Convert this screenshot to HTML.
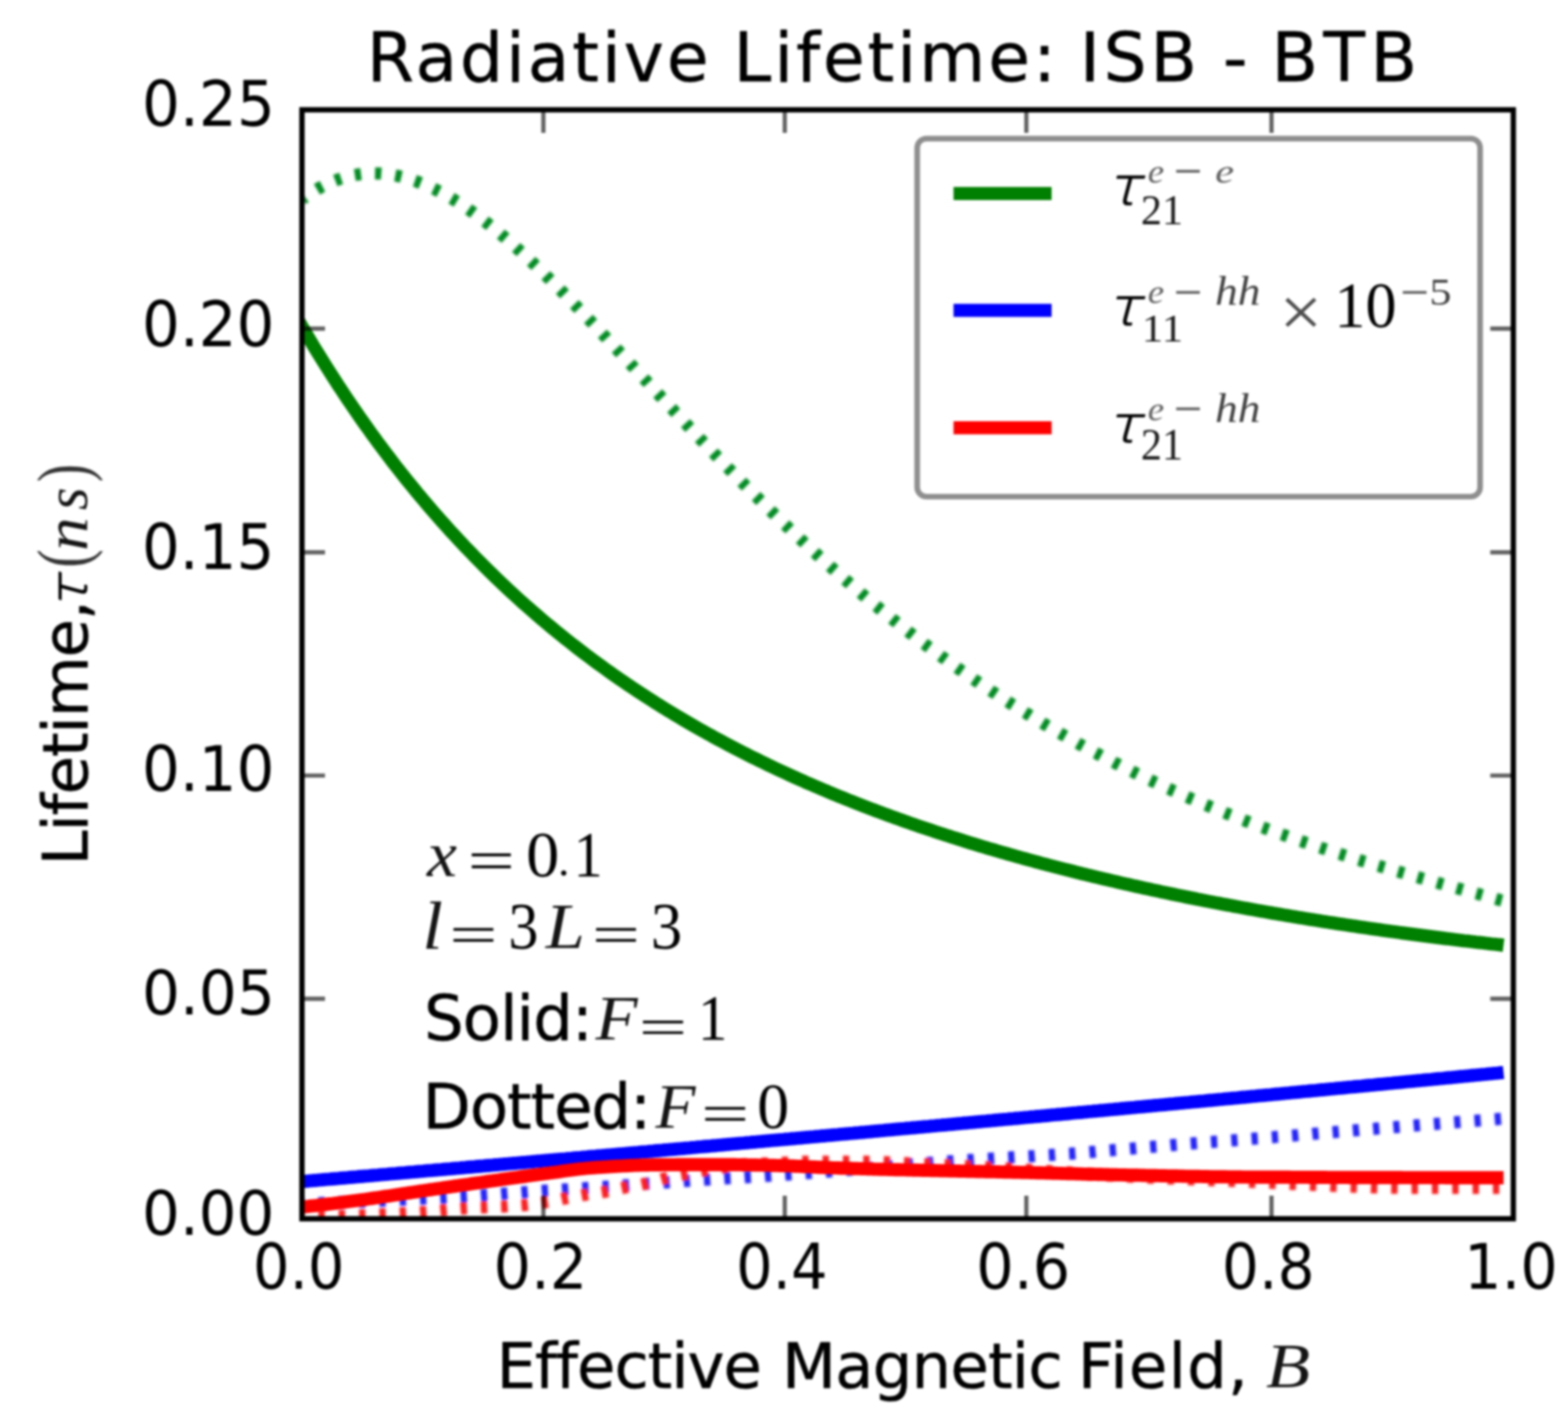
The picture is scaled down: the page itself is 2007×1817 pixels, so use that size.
<!DOCTYPE html>
<html lang="en"><head><meta charset="utf-8"><title>Radiative Lifetime: ISB - BTB</title>
<style>html,body{margin:0;padding:0;background:#fff;}body{width:2007px;height:1817px;overflow:hidden;}svg{display:block;filter:blur(1.4px);}text{white-space:pre;}</style></head>
<body><svg width="2007" height="1817" viewBox="0 0 2007 1817">
<rect x="-50" y="-50" width="2107" height="1917" fill="#fff"/>
<clipPath id="axclip"><rect x="386.5" y="140.5" width="1550.5" height="1419.0"/></clipPath>
<filter id="soft" x="-5%" y="-5%" width="110%" height="110%"><feGaussianBlur stdDeviation="1.3"/></filter>
<g clip-path="url(#axclip)" fill="none" stroke-linejoin="round">
<g filter="url(#soft)">
<path d="M387.0,254.8 L390.9,252.0 L394.7,249.3 L398.6,246.7 L402.4,244.3 L406.3,242.0 L410.1,239.8 L414.0,237.8 L417.8,235.9 L421.7,234.1 L425.5,232.4 L429.4,230.9 L433.2,229.5 L437.1,228.2 L440.9,227.0 L444.8,226.0 L448.7,225.0 L452.5,224.2 L456.4,223.6 L460.2,223.0 L464.1,222.5 L467.9,222.2 L471.8,221.9 L475.6,221.8 L479.5,221.8 L483.3,221.9 L487.2,222.1 L491.0,222.4 L494.9,222.8 L498.7,223.3 L502.6,223.9 L506.5,224.6 L510.3,225.4 L514.2,226.3 L518.0,227.3 L521.9,228.4 L525.7,229.6 L529.6,230.9 L533.4,232.2 L537.3,233.7 L541.1,235.2 L545.0,236.8 L548.8,238.5 L552.7,240.3 L556.5,242.1 L560.4,244.1 L564.3,246.1 L568.1,248.2 L572.0,250.3 L575.8,252.5 L579.7,254.8 L583.5,257.2 L587.4,259.6 L591.2,262.1 L595.1,264.7 L598.9,267.3 L602.8,270.0 L606.6,272.8 L610.5,275.6 L614.3,278.4 L618.2,281.3 L622.1,284.3 L625.9,287.3 L629.8,290.4 L633.6,293.5 L637.5,296.7 L641.3,299.9 L645.2,303.2 L649.0,306.5 L652.9,309.8 L656.7,313.2 L660.6,316.6 L664.4,320.1 L668.3,323.6 L672.2,327.2 L676.0,330.7 L679.9,334.4 L683.7,338.0 L687.6,341.7 L691.4,345.4 L695.3,349.1 L699.1,352.9 L703.0,356.7 L706.8,360.5 L710.7,364.3 L714.5,368.2 L718.4,372.1 L722.2,376.0 L726.1,380.0 L730.0,383.9 L733.8,387.9 L737.7,391.9 L741.5,395.9 L745.4,399.9 L749.2,403.9 L753.1,408.0 L756.9,412.0 L760.8,416.1 L764.6,420.2 L768.5,424.3 L772.3,428.4 L776.2,432.5 L780.0,436.7 L783.9,440.8 L787.8,444.9 L791.6,449.1 L795.5,453.2 L799.3,457.4 L803.2,461.5 L807.0,465.7 L810.9,469.9 L814.7,474.0 L818.6,478.2 L822.4,482.4 L826.3,486.5 L830.1,490.7 L834.0,494.9 L837.8,499.0 L841.7,503.2 L845.6,507.4 L849.4,511.5 L853.3,515.7 L857.1,519.8 L861.0,523.9 L864.8,528.1 L868.7,532.2 L872.5,536.3 L876.4,540.4 L880.2,544.5 L884.1,548.6 L887.9,552.7 L891.8,556.8 L895.6,560.9 L899.5,565.0 L903.4,569.0 L907.2,573.1 L911.1,577.1 L914.9,581.1 L918.8,585.1 L922.6,589.1 L926.5,593.1 L930.3,597.1 L934.2,601.1 L938.0,605.0 L941.9,608.9 L945.7,612.9 L949.6,616.8 L953.4,620.7 L957.3,624.6 L961.2,628.4 L965.0,632.3 L968.9,636.1 L972.7,640.0 L976.6,643.8 L980.4,647.6 L984.3,651.4 L988.1,655.1 L992.0,658.9 L995.8,662.6 L999.7,666.3 L1003.5,670.1 L1007.4,673.7 L1011.2,677.4 L1015.1,681.1 L1019.0,684.7 L1022.8,688.3 L1026.7,691.9 L1030.5,695.5 L1034.4,699.1 L1038.2,702.7 L1042.1,706.2 L1045.9,709.7 L1049.8,713.2 L1053.6,716.7 L1057.5,720.2 L1061.3,723.6 L1065.2,727.1 L1069.0,730.5 L1072.9,733.9 L1076.8,737.3 L1080.6,740.7 L1084.5,744.0 L1088.3,747.3 L1092.2,750.7 L1096.0,754.0 L1099.9,757.2 L1103.7,760.5 L1107.6,763.7 L1111.4,767.0 L1115.3,770.2 L1119.1,773.4 L1123.0,776.5 L1126.8,779.7 L1130.7,782.8 L1134.6,786.0 L1138.4,789.1 L1142.3,792.2 L1146.1,795.2 L1150.0,798.3 L1153.8,801.3 L1157.7,804.3 L1161.5,807.3 L1165.4,810.3 L1169.2,813.3 L1173.1,816.3 L1176.9,819.2 L1180.8,822.1 L1184.7,825.0 L1188.5,827.9 L1192.4,830.7 L1196.2,833.6 L1200.1,836.4 L1203.9,839.2 L1207.8,842.0 L1211.6,844.8 L1215.5,847.6 L1219.3,850.3 L1223.2,853.1 L1227.0,855.8 L1230.9,858.5 L1234.7,861.2 L1238.6,863.8 L1242.5,866.5 L1246.3,869.1 L1250.2,871.8 L1254.0,874.4 L1257.9,876.9 L1261.7,879.5 L1265.6,882.1 L1269.4,884.6 L1273.3,887.1 L1277.1,889.7 L1281.0,892.1 L1284.8,894.6 L1288.7,897.1 L1292.5,899.5 L1296.4,902.0 L1300.3,904.4 L1304.1,906.8 L1308.0,909.2 L1311.8,911.6 L1315.7,913.9 L1319.5,916.3 L1323.4,918.6 L1327.2,920.9 L1331.1,923.2 L1334.9,925.5 L1338.8,927.8 L1342.6,930.0 L1346.5,932.3 L1350.3,934.5 L1354.2,936.7 L1358.1,938.9 L1361.9,941.1 L1365.8,943.3 L1369.6,945.5 L1373.5,947.6 L1377.3,949.7 L1381.2,951.9 L1385.0,954.0 L1388.9,956.1 L1392.7,958.1 L1396.6,960.2 L1400.4,962.3 L1404.3,964.3 L1408.1,966.3 L1412.0,968.4 L1415.9,970.4 L1419.7,972.4 L1423.6,974.3 L1427.4,976.3 L1431.3,978.2 L1435.1,980.2 L1439.0,982.1 L1442.8,984.0 L1446.7,985.9 L1450.5,987.8 L1454.4,989.7 L1458.2,991.6 L1462.1,993.4 L1465.9,995.3 L1469.8,997.1 L1473.7,998.9 L1477.5,1000.7 L1481.4,1002.5 L1485.2,1004.3 L1489.1,1006.1 L1492.9,1007.9 L1496.8,1009.6 L1500.6,1011.4 L1504.5,1013.1 L1508.3,1014.8 L1512.2,1016.5 L1516.0,1018.2 L1519.9,1019.9 L1523.7,1021.6 L1527.6,1023.2 L1531.5,1024.9 L1535.3,1026.5 L1539.2,1028.2 L1543.0,1029.8 L1546.9,1031.4 L1550.7,1033.0 L1554.6,1034.6 L1558.4,1036.2 L1562.3,1037.8 L1566.1,1039.3 L1570.0,1040.9 L1573.8,1042.4 L1577.7,1043.9 L1581.5,1045.5 L1585.4,1047.0 L1589.3,1048.5 L1593.1,1050.0 L1597.0,1051.4 L1600.8,1052.9 L1604.7,1054.4 L1608.5,1055.8 L1612.4,1057.3 L1616.2,1058.7 L1620.1,1060.2 L1623.9,1061.6 L1627.8,1063.0 L1631.6,1064.4 L1635.5,1065.8 L1639.3,1067.2 L1643.2,1068.5 L1647.1,1069.9 L1650.9,1071.3 L1654.8,1072.6 L1658.6,1073.9 L1662.5,1075.3 L1666.3,1076.6 L1670.2,1077.9 L1674.0,1079.2 L1677.9,1080.5 L1681.7,1081.8 L1685.6,1083.1 L1689.4,1084.4 L1693.3,1085.7 L1697.2,1086.9 L1701.0,1088.2 L1704.9,1089.4 L1708.7,1090.7 L1712.6,1091.9 L1716.4,1093.1 L1720.3,1094.4 L1724.1,1095.6 L1728.0,1096.8 L1731.8,1098.0 L1735.7,1099.2 L1739.5,1100.4 L1743.4,1101.6 L1747.2,1102.7 L1751.1,1103.9 L1755.0,1105.1 L1758.8,1106.2 L1762.7,1107.4 L1766.5,1108.5 L1770.4,1109.7 L1774.2,1110.8 L1778.1,1111.9 L1781.9,1113.1 L1785.8,1114.2 L1789.6,1115.3 L1793.5,1116.4 L1797.3,1117.5 L1801.2,1118.7 L1805.0,1119.8 L1808.9,1120.9 L1812.8,1121.9 L1816.6,1123.0 L1820.5,1124.1 L1824.3,1125.2 L1828.2,1126.3 L1832.0,1127.4 L1835.9,1128.4 L1839.7,1129.5 L1843.6,1130.6 L1847.4,1131.7 L1851.3,1132.7 L1855.1,1133.8 L1859.0,1134.9 L1862.8,1135.9 L1866.7,1137.0 L1870.6,1138.0 L1874.4,1139.1 L1878.3,1140.2 L1882.1,1141.2 L1886.0,1142.3 L1889.8,1143.3 L1893.7,1144.4 L1897.5,1145.5 L1901.4,1146.5 L1905.2,1147.6 L1909.1,1148.7 L1912.9,1149.7 L1916.8,1150.8 L1920.6,1151.9 L1924.5,1152.9" stroke="#048c20" stroke-width="15.5" stroke-opacity="1" stroke-dasharray="8.0 18.03" stroke-dashoffset="3.5"/>
<path d="M387.0,1540.0 L390.9,1539.9 L394.7,1539.8 L398.6,1539.7 L402.4,1539.6 L406.3,1539.5 L410.1,1539.4 L414.0,1539.2 L417.8,1539.1 L421.7,1539.0 L425.5,1538.9 L429.4,1538.7 L433.2,1538.6 L437.1,1538.4 L440.9,1538.3 L444.8,1538.2 L448.7,1538.0 L452.5,1537.9 L456.4,1537.7 L460.2,1537.6 L464.1,1537.4 L467.9,1537.2 L471.8,1537.1 L475.6,1536.9 L479.5,1536.7 L483.3,1536.6 L487.2,1536.4 L491.0,1536.2 L494.9,1536.1 L498.7,1535.9 L502.6,1535.7 L506.5,1535.5 L510.3,1535.3 L514.2,1535.1 L518.0,1535.0 L521.9,1534.8 L525.7,1534.6 L529.6,1534.4 L533.4,1534.2 L537.3,1534.0 L541.1,1533.8 L545.0,1533.6 L548.8,1533.4 L552.7,1533.2 L556.5,1533.0 L560.4,1532.8 L564.3,1532.6 L568.1,1532.4 L572.0,1532.2 L575.8,1531.9 L579.7,1531.7 L583.5,1531.5 L587.4,1531.3 L591.2,1531.1 L595.1,1530.9 L598.9,1530.7 L602.8,1530.4 L606.6,1530.2 L610.5,1529.9 L614.3,1529.7 L618.2,1529.4 L622.1,1529.1 L625.9,1528.9 L629.8,1528.6 L633.6,1528.3 L637.5,1528.0 L641.3,1527.7 L645.2,1527.4 L649.0,1527.1 L652.9,1526.8 L656.7,1526.5 L660.6,1526.3 L664.4,1526.0 L668.3,1525.7 L672.2,1525.4 L676.0,1525.1 L679.9,1524.8 L683.7,1524.5 L687.6,1524.2 L691.4,1524.0 L695.3,1523.7 L699.1,1523.4 L703.0,1523.2 L706.8,1522.9 L710.7,1522.7 L714.5,1522.4 L718.4,1522.2 L722.2,1521.9 L726.1,1521.7 L730.0,1521.4 L733.8,1521.2 L737.7,1520.9 L741.5,1520.7 L745.4,1520.4 L749.2,1520.2 L753.1,1519.9 L756.9,1519.7 L760.8,1519.4 L764.6,1519.2 L768.5,1518.9 L772.3,1518.7 L776.2,1518.4 L780.0,1518.2 L783.9,1517.9 L787.8,1517.6 L791.6,1517.3 L795.5,1517.1 L799.3,1516.8 L803.2,1516.5 L807.0,1516.2 L810.9,1516.0 L814.7,1515.7 L818.6,1515.4 L822.4,1515.1 L826.3,1514.8 L830.1,1514.5 L834.0,1514.3 L837.8,1514.0 L841.7,1513.7 L845.6,1513.4 L849.4,1513.1 L853.3,1512.9 L857.1,1512.6 L861.0,1512.3 L864.8,1512.0 L868.7,1511.8 L872.5,1511.5 L876.4,1511.2 L880.2,1511.0 L884.1,1510.7 L887.9,1510.5 L891.8,1510.2 L895.6,1510.0 L899.5,1509.7 L903.4,1509.5 L907.2,1509.3 L911.1,1509.0 L914.9,1508.8 L918.8,1508.5 L922.6,1508.3 L926.5,1508.1 L930.3,1507.8 L934.2,1507.6 L938.0,1507.4 L941.9,1507.1 L945.7,1506.9 L949.6,1506.7 L953.4,1506.4 L957.3,1506.2 L961.2,1506.0 L965.0,1505.7 L968.9,1505.5 L972.7,1505.2 L976.6,1505.0 L980.4,1504.7 L984.3,1504.5 L988.1,1504.2 L992.0,1504.0 L995.8,1503.7 L999.7,1503.5 L1003.5,1503.2 L1007.4,1502.9 L1011.2,1502.7 L1015.1,1502.4 L1019.0,1502.1 L1022.8,1501.9 L1026.7,1501.6 L1030.5,1501.3 L1034.4,1501.0 L1038.2,1500.8 L1042.1,1500.5 L1045.9,1500.2 L1049.8,1499.9 L1053.6,1499.6 L1057.5,1499.3 L1061.3,1499.0 L1065.2,1498.6 L1069.0,1498.3 L1072.9,1498.0 L1076.8,1497.7 L1080.6,1497.4 L1084.5,1497.0 L1088.3,1496.7 L1092.2,1496.4 L1096.0,1496.0 L1099.9,1495.7 L1103.7,1495.4 L1107.6,1495.0 L1111.4,1494.7 L1115.3,1494.3 L1119.1,1494.0 L1123.0,1493.7 L1126.8,1493.3 L1130.7,1493.0 L1134.6,1492.6 L1138.4,1492.3 L1142.3,1492.0 L1146.1,1491.6 L1150.0,1491.3 L1153.8,1491.0 L1157.7,1490.6 L1161.5,1490.3 L1165.4,1490.0 L1169.2,1489.7 L1173.1,1489.3 L1176.9,1489.0 L1180.8,1488.7 L1184.7,1488.4 L1188.5,1488.1 L1192.4,1487.8 L1196.2,1487.5 L1200.1,1487.2 L1203.9,1486.9 L1207.8,1486.6 L1211.6,1486.3 L1215.5,1486.0 L1219.3,1485.8 L1223.2,1485.5 L1227.0,1485.2 L1230.9,1485.0 L1234.7,1484.7 L1238.6,1484.5 L1242.5,1484.2 L1246.3,1484.0 L1250.2,1483.7 L1254.0,1483.5 L1257.9,1483.3 L1261.7,1483.0 L1265.6,1482.8 L1269.4,1482.5 L1273.3,1482.3 L1277.1,1482.1 L1281.0,1481.8 L1284.8,1481.6 L1288.7,1481.3 L1292.5,1481.1 L1296.4,1480.8 L1300.3,1480.6 L1304.1,1480.4 L1308.0,1480.1 L1311.8,1479.9 L1315.7,1479.6 L1319.5,1479.4 L1323.4,1479.2 L1327.2,1478.9 L1331.1,1478.7 L1334.9,1478.5 L1338.8,1478.2 L1342.6,1478.0 L1346.5,1477.7 L1350.3,1477.5 L1354.2,1477.2 L1358.1,1477.0 L1361.9,1476.7 L1365.8,1476.4 L1369.6,1476.2 L1373.5,1475.9 L1377.3,1475.6 L1381.2,1475.3 L1385.0,1475.0 L1388.9,1474.7 L1392.7,1474.4 L1396.6,1474.1 L1400.4,1473.8 L1404.3,1473.4 L1408.1,1473.1 L1412.0,1472.8 L1415.9,1472.4 L1419.7,1472.1 L1423.6,1471.8 L1427.4,1471.4 L1431.3,1471.1 L1435.1,1470.8 L1439.0,1470.4 L1442.8,1470.1 L1446.7,1469.8 L1450.5,1469.5 L1454.4,1469.1 L1458.2,1468.8 L1462.1,1468.5 L1465.9,1468.2 L1469.8,1467.8 L1473.7,1467.5 L1477.5,1467.2 L1481.4,1466.9 L1485.2,1466.5 L1489.1,1466.2 L1492.9,1465.9 L1496.8,1465.6 L1500.6,1465.2 L1504.5,1464.9 L1508.3,1464.6 L1512.2,1464.3 L1516.0,1464.0 L1519.9,1463.7 L1523.7,1463.3 L1527.6,1463.0 L1531.5,1462.7 L1535.3,1462.4 L1539.2,1462.1 L1543.0,1461.8 L1546.9,1461.5 L1550.7,1461.2 L1554.6,1460.9 L1558.4,1460.7 L1562.3,1460.4 L1566.1,1460.1 L1570.0,1459.8 L1573.8,1459.5 L1577.7,1459.2 L1581.5,1458.9 L1585.4,1458.6 L1589.3,1458.3 L1593.1,1458.0 L1597.0,1457.7 L1600.8,1457.3 L1604.7,1457.0 L1608.5,1456.7 L1612.4,1456.4 L1616.2,1456.1 L1620.1,1455.8 L1623.9,1455.5 L1627.8,1455.2 L1631.6,1454.9 L1635.5,1454.5 L1639.3,1454.2 L1643.2,1453.9 L1647.1,1453.6 L1650.9,1453.3 L1654.8,1453.0 L1658.6,1452.7 L1662.5,1452.3 L1666.3,1452.0 L1670.2,1451.7 L1674.0,1451.4 L1677.9,1451.1 L1681.7,1450.7 L1685.6,1450.4 L1689.4,1450.1 L1693.3,1449.8 L1697.2,1449.5 L1701.0,1449.2 L1704.9,1448.8 L1708.7,1448.5 L1712.6,1448.2 L1716.4,1447.9 L1720.3,1447.6 L1724.1,1447.2 L1728.0,1446.9 L1731.8,1446.6 L1735.7,1446.3 L1739.5,1446.0 L1743.4,1445.6 L1747.2,1445.3 L1751.1,1445.0 L1755.0,1444.7 L1758.8,1444.4 L1762.7,1444.1 L1766.5,1443.8 L1770.4,1443.4 L1774.2,1443.1 L1778.1,1442.8 L1781.9,1442.5 L1785.8,1442.2 L1789.6,1441.9 L1793.5,1441.6 L1797.3,1441.3 L1801.2,1440.9 L1805.0,1440.6 L1808.9,1440.3 L1812.8,1440.0 L1816.6,1439.7 L1820.5,1439.4 L1824.3,1439.1 L1828.2,1438.8 L1832.0,1438.5 L1835.9,1438.2 L1839.7,1437.9 L1843.6,1437.6 L1847.4,1437.3 L1851.3,1437.0 L1855.1,1436.7 L1859.0,1436.4 L1862.8,1436.1 L1866.7,1435.8 L1870.6,1435.5 L1874.4,1435.2 L1878.3,1434.9 L1882.1,1434.6 L1886.0,1434.3 L1889.8,1434.0 L1893.7,1433.7 L1897.5,1433.4 L1901.4,1433.1 L1905.2,1432.8 L1909.1,1432.5 L1912.9,1432.2 L1916.8,1431.9 L1920.6,1431.6 L1924.5,1431.3" stroke="#2222ff" stroke-width="15.5" stroke-opacity="1" stroke-dasharray="8.0 18.03" stroke-dashoffset="5.5"/>
<path d="M387.0,1557.0 L390.9,1557.0 L394.7,1557.0 L398.6,1556.9 L402.4,1556.9 L406.3,1556.8 L410.1,1556.7 L414.0,1556.7 L417.8,1556.6 L421.7,1556.5 L425.5,1556.4 L429.4,1556.3 L433.2,1556.2 L437.1,1556.0 L440.9,1555.9 L444.8,1555.8 L448.7,1555.6 L452.5,1555.5 L456.4,1555.3 L460.2,1555.2 L464.1,1555.0 L467.9,1554.8 L471.8,1554.7 L475.6,1554.5 L479.5,1554.3 L483.3,1554.1 L487.2,1553.9 L491.0,1553.7 L494.9,1553.5 L498.7,1553.3 L502.6,1553.1 L506.5,1552.9 L510.3,1552.7 L514.2,1552.5 L518.0,1552.3 L521.9,1552.0 L525.7,1551.8 L529.6,1551.6 L533.4,1551.4 L537.3,1551.2 L541.1,1550.9 L545.0,1550.7 L548.8,1550.4 L552.7,1550.1 L556.5,1549.7 L560.4,1549.4 L564.3,1549.0 L568.1,1548.6 L572.0,1548.2 L575.8,1547.9 L579.7,1547.5 L583.5,1547.1 L587.4,1546.8 L591.2,1546.5 L595.1,1546.2 L598.9,1546.0 L602.8,1545.8 L606.6,1545.5 L610.5,1545.3 L614.3,1545.1 L618.2,1545.0 L622.1,1544.8 L625.9,1544.6 L629.8,1544.5 L633.6,1544.3 L637.5,1544.1 L641.3,1543.9 L645.2,1543.8 L649.0,1543.6 L652.9,1543.3 L656.7,1543.1 L660.6,1542.9 L664.4,1542.6 L668.3,1542.3 L672.2,1542.0 L676.0,1541.6 L679.9,1541.1 L683.7,1540.6 L687.6,1540.0 L691.4,1539.4 L695.3,1538.8 L699.1,1538.1 L703.0,1537.5 L706.8,1536.7 L710.7,1536.0 L714.5,1535.2 L718.4,1534.5 L722.2,1533.7 L726.1,1533.0 L730.0,1532.3 L733.8,1531.6 L737.7,1530.8 L741.5,1530.1 L745.4,1529.4 L749.2,1528.8 L753.1,1528.1 L756.9,1527.6 L760.8,1527.0 L764.6,1526.5 L768.5,1525.9 L772.3,1525.3 L776.2,1524.6 L780.0,1523.8 L783.9,1523.0 L787.8,1522.1 L791.6,1521.3 L795.5,1520.4 L799.3,1519.6 L803.2,1518.9 L807.0,1518.2 L810.9,1517.6 L814.7,1516.9 L818.6,1516.3 L822.4,1515.5 L826.3,1514.7 L830.1,1513.8 L834.0,1512.7 L837.8,1511.6 L841.7,1510.4 L845.6,1509.3 L849.4,1508.2 L853.3,1507.3 L857.1,1506.5 L861.0,1505.6 L864.8,1504.9 L868.7,1504.1 L872.5,1503.4 L876.4,1502.6 L880.2,1501.9 L884.1,1501.1 L887.9,1500.3 L891.8,1499.5 L895.6,1498.7 L899.5,1498.0 L903.4,1497.3 L907.2,1496.6 L911.1,1496.0 L914.9,1495.4 L918.8,1494.8 L922.6,1494.2 L926.5,1493.6 L930.3,1493.1 L934.2,1492.6 L938.0,1492.1 L941.9,1491.6 L945.7,1491.1 L949.6,1490.7 L953.4,1490.3 L957.3,1490.0 L961.2,1489.7 L965.0,1489.5 L968.9,1489.3 L972.7,1489.1 L976.6,1488.9 L980.4,1488.7 L984.3,1488.6 L988.1,1488.4 L992.0,1488.2 L995.8,1488.1 L999.7,1487.9 L1003.5,1487.7 L1007.4,1487.5 L1011.2,1487.3 L1015.1,1487.0 L1019.0,1486.8 L1022.8,1486.6 L1026.7,1486.5 L1030.5,1486.4 L1034.4,1486.4 L1038.2,1486.4 L1042.1,1486.4 L1045.9,1486.4 L1049.8,1486.4 L1053.6,1486.4 L1057.5,1486.4 L1061.3,1486.4 L1065.2,1486.4 L1069.0,1486.4 L1072.9,1486.5 L1076.8,1486.5 L1080.6,1486.5 L1084.5,1486.5 L1088.3,1486.5 L1092.2,1486.5 L1096.0,1486.5 L1099.9,1486.6 L1103.7,1486.6 L1107.6,1486.6 L1111.4,1486.6 L1115.3,1486.6 L1119.1,1486.7 L1123.0,1486.8 L1126.8,1486.9 L1130.7,1487.0 L1134.6,1487.2 L1138.4,1487.3 L1142.3,1487.5 L1146.1,1487.7 L1150.0,1487.9 L1153.8,1488.1 L1157.7,1488.3 L1161.5,1488.5 L1165.4,1488.7 L1169.2,1488.9 L1173.1,1489.1 L1176.9,1489.3 L1180.8,1489.5 L1184.7,1489.7 L1188.5,1489.9 L1192.4,1490.0 L1196.2,1490.2 L1200.1,1490.4 L1203.9,1490.6 L1207.8,1490.8 L1211.6,1491.0 L1215.5,1491.2 L1219.3,1491.4 L1223.2,1491.5 L1227.0,1491.7 L1230.9,1491.9 L1234.7,1492.1 L1238.6,1492.3 L1242.5,1492.5 L1246.3,1492.7 L1250.2,1492.9 L1254.0,1493.2 L1257.9,1493.4 L1261.7,1493.6 L1265.6,1493.8 L1269.4,1494.0 L1273.3,1494.2 L1277.1,1494.4 L1281.0,1494.6 L1284.8,1494.9 L1288.7,1495.1 L1292.5,1495.3 L1296.4,1495.5 L1300.3,1495.8 L1304.1,1496.0 L1308.0,1496.3 L1311.8,1496.5 L1315.7,1496.8 L1319.5,1497.0 L1323.4,1497.3 L1327.2,1497.5 L1331.1,1497.8 L1334.9,1498.1 L1338.8,1498.4 L1342.6,1498.6 L1346.5,1498.9 L1350.3,1499.2 L1354.2,1499.5 L1358.1,1499.7 L1361.9,1500.0 L1365.8,1500.3 L1369.6,1500.6 L1373.5,1500.9 L1377.3,1501.2 L1381.2,1501.4 L1385.0,1501.7 L1388.9,1502.0 L1392.7,1502.3 L1396.6,1502.5 L1400.4,1502.8 L1404.3,1503.1 L1408.1,1503.3 L1412.0,1503.6 L1415.9,1503.8 L1419.7,1504.1 L1423.6,1504.3 L1427.4,1504.6 L1431.3,1504.8 L1435.1,1505.0 L1439.0,1505.2 L1442.8,1505.4 L1446.7,1505.6 L1450.5,1505.8 L1454.4,1506.0 L1458.2,1506.2 L1462.1,1506.4 L1465.9,1506.6 L1469.8,1506.8 L1473.7,1507.0 L1477.5,1507.1 L1481.4,1507.3 L1485.2,1507.5 L1489.1,1507.6 L1492.9,1507.8 L1496.8,1508.0 L1500.6,1508.1 L1504.5,1508.3 L1508.3,1508.5 L1512.2,1508.6 L1516.0,1508.8 L1519.9,1508.9 L1523.7,1509.1 L1527.6,1509.2 L1531.5,1509.4 L1535.3,1509.5 L1539.2,1509.7 L1543.0,1509.9 L1546.9,1510.0 L1550.7,1510.2 L1554.6,1510.3 L1558.4,1510.5 L1562.3,1510.6 L1566.1,1510.8 L1570.0,1510.9 L1573.8,1511.1 L1577.7,1511.2 L1581.5,1511.4 L1585.4,1511.5 L1589.3,1511.7 L1593.1,1511.9 L1597.0,1512.1 L1600.8,1512.2 L1604.7,1512.4 L1608.5,1512.6 L1612.4,1512.8 L1616.2,1513.0 L1620.1,1513.1 L1623.9,1513.3 L1627.8,1513.5 L1631.6,1513.7 L1635.5,1513.9 L1639.3,1514.1 L1643.2,1514.3 L1647.1,1514.5 L1650.9,1514.7 L1654.8,1514.9 L1658.6,1515.1 L1662.5,1515.3 L1666.3,1515.5 L1670.2,1515.6 L1674.0,1515.8 L1677.9,1516.0 L1681.7,1516.2 L1685.6,1516.4 L1689.4,1516.6 L1693.3,1516.8 L1697.2,1516.9 L1701.0,1517.1 L1704.9,1517.3 L1708.7,1517.5 L1712.6,1517.6 L1716.4,1517.8 L1720.3,1517.9 L1724.1,1518.1 L1728.0,1518.3 L1731.8,1518.4 L1735.7,1518.5 L1739.5,1518.7 L1743.4,1518.8 L1747.2,1518.9 L1751.1,1519.0 L1755.0,1519.2 L1758.8,1519.3 L1762.7,1519.4 L1766.5,1519.5 L1770.4,1519.5 L1774.2,1519.6 L1778.1,1519.7 L1781.9,1519.8 L1785.8,1519.8 L1789.6,1519.9 L1793.5,1519.9 L1797.3,1520.0 L1801.2,1520.0 L1805.0,1520.0 L1808.9,1520.0 L1812.8,1520.0 L1816.6,1520.0 L1820.5,1520.0 L1824.3,1520.0 L1828.2,1520.0 L1832.0,1520.0 L1835.9,1520.0 L1839.7,1520.0 L1843.6,1520.0 L1847.4,1520.0 L1851.3,1520.0 L1855.1,1520.0 L1859.0,1520.0 L1862.8,1520.0 L1866.7,1520.0 L1870.6,1520.0 L1874.4,1520.0 L1878.3,1520.0 L1882.1,1520.0 L1886.0,1520.0 L1889.8,1520.0 L1893.7,1520.0 L1897.5,1520.0 L1901.4,1520.0 L1905.2,1520.0 L1909.1,1520.0 L1912.9,1520.0 L1916.8,1520.0 L1920.6,1520.0 L1924.5,1520.0" stroke="#ff1a1a" stroke-width="15.5" stroke-opacity="1" stroke-dasharray="8.0 18.03" stroke-dashoffset="5.35"/>
</g>
<path d="M379.0,404.8 L382.9,411.5 L386.7,418.1 L390.6,424.7 L394.5,431.3 L398.4,437.8 L402.2,444.2 L406.1,450.5 L410.0,456.8 L413.9,463.0 L417.7,469.2 L421.6,475.3 L425.5,481.4 L429.4,487.4 L433.2,493.3 L437.1,499.2 L441.0,505.1 L444.8,510.9 L448.7,516.6 L452.6,522.3 L456.5,527.9 L460.3,533.5 L464.2,539.0 L468.1,544.5 L472.0,549.9 L475.8,555.3 L479.7,560.6 L483.6,565.9 L487.5,571.1 L491.3,576.3 L495.2,581.4 L499.1,586.5 L502.9,591.6 L506.8,596.6 L510.7,601.5 L514.6,606.4 L518.4,611.3 L522.3,616.1 L526.2,620.9 L530.1,625.7 L533.9,630.4 L537.8,635.0 L541.7,639.6 L545.6,644.2 L549.4,648.7 L553.3,653.2 L557.2,657.7 L561.1,662.1 L564.9,666.5 L568.8,670.8 L572.7,675.1 L576.5,679.4 L580.4,683.6 L584.3,687.8 L588.2,692.0 L592.0,696.1 L595.9,700.2 L599.8,704.2 L603.7,708.2 L607.5,712.2 L611.4,716.2 L615.3,720.1 L619.2,724.0 L623.0,727.8 L626.9,731.6 L630.8,735.4 L634.6,739.2 L638.5,742.9 L642.4,746.6 L646.3,750.2 L650.1,753.9 L654.0,757.5 L657.9,761.0 L661.8,764.6 L665.6,768.1 L669.5,771.6 L673.4,775.0 L677.3,778.4 L681.1,781.8 L685.0,785.2 L688.9,788.5 L692.7,791.8 L696.6,795.1 L700.5,798.4 L704.4,801.6 L708.2,804.8 L712.1,808.0 L716.0,811.1 L719.9,814.3 L723.7,817.4 L727.6,820.4 L731.5,823.5 L735.4,826.5 L739.2,829.5 L743.1,832.5 L747.0,835.5 L750.8,838.4 L754.7,841.3 L758.6,844.2 L762.5,847.1 L766.3,849.9 L770.2,852.7 L774.1,855.5 L778.0,858.3 L781.8,861.0 L785.7,863.8 L789.6,866.5 L793.5,869.2 L797.3,871.8 L801.2,874.5 L805.1,877.1 L809.0,879.7 L812.8,882.3 L816.7,884.9 L820.6,887.4 L824.4,889.9 L828.3,892.4 L832.2,894.9 L836.1,897.4 L839.9,899.9 L843.8,902.3 L847.7,904.7 L851.6,907.1 L855.4,909.5 L859.3,911.8 L863.2,914.2 L867.1,916.5 L870.9,918.8 L874.8,921.1 L878.7,923.4 L882.5,925.6 L886.4,927.9 L890.3,930.1 L894.2,932.3 L898.0,934.5 L901.9,936.6 L905.8,938.8 L909.7,940.9 L913.5,943.1 L917.4,945.2 L921.3,947.3 L925.2,949.3 L929.0,951.4 L932.9,953.5 L936.8,955.5 L940.6,957.5 L944.5,959.5 L948.4,961.5 L952.3,963.5 L956.1,965.4 L960.0,967.4 L963.9,969.3 L967.8,971.2 L971.6,973.1 L975.5,975.0 L979.4,976.9 L983.3,978.8 L987.1,980.6 L991.0,982.5 L994.9,984.3 L998.7,986.1 L1002.6,987.9 L1006.5,989.7 L1010.4,991.5 L1014.2,993.2 L1018.1,995.0 L1022.0,996.7 L1025.9,998.4 L1029.7,1000.2 L1033.6,1001.9 L1037.5,1003.6 L1041.4,1005.2 L1045.2,1006.9 L1049.1,1008.6 L1053.0,1010.2 L1056.9,1011.8 L1060.7,1013.5 L1064.6,1015.1 L1068.5,1016.7 L1072.3,1018.3 L1076.2,1019.8 L1080.1,1021.4 L1084.0,1023.0 L1087.8,1024.5 L1091.7,1026.0 L1095.6,1027.6 L1099.5,1029.1 L1103.3,1030.6 L1107.2,1032.1 L1111.1,1033.6 L1115.0,1035.1 L1118.8,1036.5 L1122.7,1038.0 L1126.6,1039.4 L1130.4,1040.9 L1134.3,1042.3 L1138.2,1043.7 L1142.1,1045.1 L1145.9,1046.5 L1149.8,1047.9 L1153.7,1049.3 L1157.6,1050.7 L1161.4,1052.0 L1165.3,1053.4 L1169.2,1054.7 L1173.1,1056.1 L1176.9,1057.4 L1180.8,1058.7 L1184.7,1060.0 L1188.5,1061.3 L1192.4,1062.6 L1196.3,1063.9 L1200.2,1065.2 L1204.0,1066.5 L1207.9,1067.7 L1211.8,1069.0 L1215.7,1070.2 L1219.5,1071.5 L1223.4,1072.7 L1227.3,1073.9 L1231.2,1075.1 L1235.0,1076.4 L1238.9,1077.6 L1242.8,1078.8 L1246.6,1079.9 L1250.5,1081.1 L1254.4,1082.3 L1258.3,1083.5 L1262.1,1084.6 L1266.0,1085.8 L1269.9,1086.9 L1273.8,1088.0 L1277.6,1089.2 L1281.5,1090.3 L1285.4,1091.4 L1289.3,1092.5 L1293.1,1093.6 L1297.0,1094.7 L1300.9,1095.8 L1304.8,1096.9 L1308.6,1098.0 L1312.5,1099.0 L1316.4,1100.1 L1320.2,1101.1 L1324.1,1102.2 L1328.0,1103.2 L1331.9,1104.3 L1335.7,1105.3 L1339.6,1106.3 L1343.5,1107.4 L1347.4,1108.4 L1351.2,1109.4 L1355.1,1110.4 L1359.0,1111.4 L1362.9,1112.4 L1366.7,1113.3 L1370.6,1114.3 L1374.5,1115.3 L1378.3,1116.3 L1382.2,1117.2 L1386.1,1118.2 L1390.0,1119.1 L1393.8,1120.1 L1397.7,1121.0 L1401.6,1121.9 L1405.5,1122.9 L1409.3,1123.8 L1413.2,1124.7 L1417.1,1125.6 L1421.0,1126.5 L1424.8,1127.4 L1428.7,1128.3 L1432.6,1129.2 L1436.4,1130.1 L1440.3,1131.0 L1444.2,1131.8 L1448.1,1132.7 L1451.9,1133.6 L1455.8,1134.4 L1459.7,1135.3 L1463.6,1136.2 L1467.4,1137.0 L1471.3,1137.8 L1475.2,1138.7 L1479.1,1139.5 L1482.9,1140.3 L1486.8,1141.2 L1490.7,1142.0 L1494.5,1142.8 L1498.4,1143.6 L1502.3,1144.4 L1506.2,1145.2 L1510.0,1146.0 L1513.9,1146.8 L1517.8,1147.6 L1521.7,1148.4 L1525.5,1149.1 L1529.4,1149.9 L1533.3,1150.7 L1537.2,1151.4 L1541.0,1152.2 L1544.9,1153.0 L1548.8,1153.7 L1552.7,1154.5 L1556.5,1155.2 L1560.4,1155.9 L1564.3,1156.7 L1568.1,1157.4 L1572.0,1158.1 L1575.9,1158.8 L1579.8,1159.6 L1583.6,1160.3 L1587.5,1161.0 L1591.4,1161.7 L1595.3,1162.4 L1599.1,1163.1 L1603.0,1163.8 L1606.9,1164.5 L1610.8,1165.2 L1614.6,1165.9 L1618.5,1166.5 L1622.4,1167.2 L1626.2,1167.9 L1630.1,1168.6 L1634.0,1169.2 L1637.9,1169.9 L1641.7,1170.5 L1645.6,1171.2 L1649.5,1171.8 L1653.4,1172.5 L1657.2,1173.1 L1661.1,1173.8 L1665.0,1174.4 L1668.9,1175.0 L1672.7,1175.7 L1676.6,1176.3 L1680.5,1176.9 L1684.3,1177.5 L1688.2,1178.1 L1692.1,1178.8 L1696.0,1179.4 L1699.8,1180.0 L1703.7,1180.6 L1707.6,1181.2 L1711.5,1181.8 L1715.3,1182.3 L1719.2,1182.9 L1723.1,1183.5 L1727.0,1184.1 L1730.8,1184.7 L1734.7,1185.2 L1738.6,1185.8 L1742.4,1186.4 L1746.3,1186.9 L1750.2,1187.5 L1754.1,1188.1 L1757.9,1188.6 L1761.8,1189.2 L1765.7,1189.7 L1769.6,1190.3 L1773.4,1190.8 L1777.3,1191.3 L1781.2,1191.9 L1785.1,1192.4 L1788.9,1192.9 L1792.8,1193.5 L1796.7,1194.0 L1800.6,1194.5 L1804.4,1195.0 L1808.3,1195.5 L1812.2,1196.0 L1816.0,1196.5 L1819.9,1197.0 L1823.8,1197.5 L1827.7,1198.0 L1831.5,1198.5 L1835.4,1199.0 L1839.3,1199.5 L1843.2,1200.0 L1847.0,1200.5 L1850.9,1201.0 L1854.8,1201.4 L1858.7,1201.9 L1862.5,1202.4 L1866.4,1202.8 L1870.3,1203.3 L1874.1,1203.8 L1878.0,1204.2 L1881.9,1204.7 L1885.8,1205.1 L1889.6,1205.6 L1893.5,1206.0 L1897.4,1206.4 L1901.3,1206.9 L1905.1,1207.3 L1909.0,1207.8 L1912.9,1208.2 L1916.8,1208.6 L1920.6,1209.0 L1924.5,1209.5" stroke="#008000" stroke-width="16.9"/>
<path d="M379.0,1512.5 L382.9,1512.2 L386.7,1511.8 L390.6,1511.5 L394.5,1511.2 L398.4,1510.8 L402.2,1510.5 L406.1,1510.2 L410.0,1509.8 L413.9,1509.5 L417.7,1509.2 L421.6,1508.9 L425.5,1508.5 L429.4,1508.2 L433.2,1507.9 L437.1,1507.5 L441.0,1507.2 L444.8,1506.9 L448.7,1506.5 L452.6,1506.2 L456.5,1505.9 L460.3,1505.5 L464.2,1505.2 L468.1,1504.9 L472.0,1504.6 L475.8,1504.2 L479.7,1503.9 L483.6,1503.6 L487.5,1503.2 L491.3,1502.9 L495.2,1502.6 L499.1,1502.2 L502.9,1501.9 L506.8,1501.6 L510.7,1501.2 L514.6,1500.9 L518.4,1500.6 L522.3,1500.2 L526.2,1499.9 L530.1,1499.6 L533.9,1499.2 L537.8,1498.9 L541.7,1498.6 L545.6,1498.2 L549.4,1497.9 L553.3,1497.6 L557.2,1497.2 L561.1,1496.9 L564.9,1496.6 L568.8,1496.2 L572.7,1495.9 L576.5,1495.6 L580.4,1495.2 L584.3,1494.9 L588.2,1494.6 L592.0,1494.2 L595.9,1493.9 L599.8,1493.5 L603.7,1493.2 L607.5,1492.9 L611.4,1492.5 L615.3,1492.2 L619.2,1491.9 L623.0,1491.5 L626.9,1491.2 L630.8,1490.9 L634.6,1490.5 L638.5,1490.2 L642.4,1489.8 L646.3,1489.5 L650.1,1489.2 L654.0,1488.8 L657.9,1488.5 L661.8,1488.2 L665.6,1487.8 L669.5,1487.5 L673.4,1487.2 L677.3,1486.8 L681.1,1486.5 L685.0,1486.1 L688.9,1485.8 L692.7,1485.5 L696.6,1485.1 L700.5,1484.8 L704.4,1484.4 L708.2,1484.1 L712.1,1483.8 L716.0,1483.4 L719.9,1483.1 L723.7,1482.8 L727.6,1482.4 L731.5,1482.1 L735.4,1481.7 L739.2,1481.4 L743.1,1481.1 L747.0,1480.7 L750.8,1480.4 L754.7,1480.0 L758.6,1479.7 L762.5,1479.4 L766.3,1479.0 L770.2,1478.7 L774.1,1478.3 L778.0,1478.0 L781.8,1477.7 L785.7,1477.3 L789.6,1477.0 L793.5,1476.6 L797.3,1476.3 L801.2,1476.0 L805.1,1475.6 L809.0,1475.3 L812.8,1474.9 L816.7,1474.6 L820.6,1474.2 L824.4,1473.9 L828.3,1473.6 L832.2,1473.2 L836.1,1472.9 L839.9,1472.5 L843.8,1472.2 L847.7,1471.9 L851.6,1471.5 L855.4,1471.2 L859.3,1470.8 L863.2,1470.5 L867.1,1470.1 L870.9,1469.8 L874.8,1469.5 L878.7,1469.1 L882.5,1468.8 L886.4,1468.4 L890.3,1468.1 L894.2,1467.7 L898.0,1467.4 L901.9,1467.0 L905.8,1466.7 L909.7,1466.4 L913.5,1466.0 L917.4,1465.7 L921.3,1465.3 L925.2,1465.0 L929.0,1464.6 L932.9,1464.3 L936.8,1463.9 L940.6,1463.6 L944.5,1463.3 L948.4,1462.9 L952.3,1462.6 L956.1,1462.2 L960.0,1461.9 L963.9,1461.5 L967.8,1461.2 L971.6,1460.8 L975.5,1460.5 L979.4,1460.1 L983.3,1459.8 L987.1,1459.4 L991.0,1459.1 L994.9,1458.8 L998.7,1458.4 L1002.6,1458.1 L1006.5,1457.7 L1010.4,1457.4 L1014.2,1457.0 L1018.1,1456.7 L1022.0,1456.3 L1025.9,1456.0 L1029.7,1455.6 L1033.6,1455.3 L1037.5,1454.9 L1041.4,1454.6 L1045.2,1454.2 L1049.1,1453.9 L1053.0,1453.5 L1056.9,1453.2 L1060.7,1452.8 L1064.6,1452.5 L1068.5,1452.1 L1072.3,1451.8 L1076.2,1451.4 L1080.1,1451.1 L1084.0,1450.8 L1087.8,1450.4 L1091.7,1450.1 L1095.6,1449.7 L1099.5,1449.4 L1103.3,1449.0 L1107.2,1448.7 L1111.1,1448.3 L1115.0,1448.0 L1118.8,1447.6 L1122.7,1447.3 L1126.6,1446.9 L1130.4,1446.6 L1134.3,1446.2 L1138.2,1445.8 L1142.1,1445.5 L1145.9,1445.1 L1149.8,1444.8 L1153.7,1444.4 L1157.6,1444.1 L1161.4,1443.7 L1165.3,1443.4 L1169.2,1443.0 L1173.1,1442.7 L1176.9,1442.3 L1180.8,1442.0 L1184.7,1441.6 L1188.5,1441.3 L1192.4,1440.9 L1196.3,1440.6 L1200.2,1440.2 L1204.0,1439.9 L1207.9,1439.5 L1211.8,1439.2 L1215.7,1438.8 L1219.5,1438.5 L1223.4,1438.1 L1227.3,1437.7 L1231.2,1437.4 L1235.0,1437.0 L1238.9,1436.7 L1242.8,1436.3 L1246.6,1436.0 L1250.5,1435.6 L1254.4,1435.3 L1258.3,1434.9 L1262.1,1434.6 L1266.0,1434.2 L1269.9,1433.9 L1273.8,1433.5 L1277.6,1433.1 L1281.5,1432.8 L1285.4,1432.4 L1289.3,1432.1 L1293.1,1431.7 L1297.0,1431.4 L1300.9,1431.0 L1304.8,1430.7 L1308.6,1430.3 L1312.5,1429.9 L1316.4,1429.6 L1320.2,1429.2 L1324.1,1428.9 L1328.0,1428.5 L1331.9,1428.2 L1335.7,1427.8 L1339.6,1427.5 L1343.5,1427.1 L1347.4,1426.7 L1351.2,1426.4 L1355.1,1426.0 L1359.0,1425.7 L1362.9,1425.3 L1366.7,1425.0 L1370.6,1424.6 L1374.5,1424.2 L1378.3,1423.9 L1382.2,1423.5 L1386.1,1423.2 L1390.0,1422.8 L1393.8,1422.4 L1397.7,1422.1 L1401.6,1421.7 L1405.5,1421.4 L1409.3,1421.0 L1413.2,1420.7 L1417.1,1420.3 L1421.0,1419.9 L1424.8,1419.6 L1428.7,1419.2 L1432.6,1418.9 L1436.4,1418.5 L1440.3,1418.1 L1444.2,1417.8 L1448.1,1417.4 L1451.9,1417.1 L1455.8,1416.7 L1459.7,1416.3 L1463.6,1416.0 L1467.4,1415.6 L1471.3,1415.3 L1475.2,1414.9 L1479.1,1414.5 L1482.9,1414.2 L1486.8,1413.8 L1490.7,1413.5 L1494.5,1413.1 L1498.4,1412.7 L1502.3,1412.4 L1506.2,1412.0 L1510.0,1411.6 L1513.9,1411.3 L1517.8,1410.9 L1521.7,1410.6 L1525.5,1410.2 L1529.4,1409.8 L1533.3,1409.5 L1537.2,1409.1 L1541.0,1408.8 L1544.9,1408.4 L1548.8,1408.0 L1552.7,1407.7 L1556.5,1407.3 L1560.4,1406.9 L1564.3,1406.6 L1568.1,1406.2 L1572.0,1405.8 L1575.9,1405.5 L1579.8,1405.1 L1583.6,1404.8 L1587.5,1404.4 L1591.4,1404.0 L1595.3,1403.7 L1599.1,1403.3 L1603.0,1402.9 L1606.9,1402.6 L1610.8,1402.2 L1614.6,1401.8 L1618.5,1401.5 L1622.4,1401.1 L1626.2,1400.8 L1630.1,1400.4 L1634.0,1400.0 L1637.9,1399.7 L1641.7,1399.3 L1645.6,1398.9 L1649.5,1398.6 L1653.4,1398.2 L1657.2,1397.8 L1661.1,1397.5 L1665.0,1397.1 L1668.9,1396.7 L1672.7,1396.4 L1676.6,1396.0 L1680.5,1395.6 L1684.3,1395.3 L1688.2,1394.9 L1692.1,1394.5 L1696.0,1394.2 L1699.8,1393.8 L1703.7,1393.4 L1707.6,1393.1 L1711.5,1392.7 L1715.3,1392.3 L1719.2,1392.0 L1723.1,1391.6 L1727.0,1391.2 L1730.8,1390.9 L1734.7,1390.5 L1738.6,1390.1 L1742.4,1389.8 L1746.3,1389.4 L1750.2,1389.0 L1754.1,1388.6 L1757.9,1388.3 L1761.8,1387.9 L1765.7,1387.5 L1769.6,1387.2 L1773.4,1386.8 L1777.3,1386.4 L1781.2,1386.1 L1785.1,1385.7 L1788.9,1385.3 L1792.8,1385.0 L1796.7,1384.6 L1800.6,1384.2 L1804.4,1383.8 L1808.3,1383.5 L1812.2,1383.1 L1816.0,1382.7 L1819.9,1382.4 L1823.8,1382.0 L1827.7,1381.6 L1831.5,1381.3 L1835.4,1380.9 L1839.3,1380.5 L1843.2,1380.1 L1847.0,1379.8 L1850.9,1379.4 L1854.8,1379.0 L1858.7,1378.7 L1862.5,1378.3 L1866.4,1377.9 L1870.3,1377.5 L1874.1,1377.2 L1878.0,1376.8 L1881.9,1376.4 L1885.8,1376.0 L1889.6,1375.7 L1893.5,1375.3 L1897.4,1374.9 L1901.3,1374.6 L1905.1,1374.2 L1909.0,1373.8 L1912.9,1373.4 L1916.8,1373.1 L1920.6,1372.7 L1924.5,1372.3" stroke="#0000ff" stroke-width="16.9"/>
<path d="M379.0,1545.4 L382.9,1544.9 L386.7,1544.5 L390.6,1544.1 L394.5,1543.7 L398.4,1543.2 L402.2,1542.8 L406.1,1542.4 L410.0,1541.9 L413.9,1541.5 L417.7,1541.0 L421.6,1540.5 L425.5,1540.1 L429.4,1539.6 L433.2,1539.1 L437.1,1538.6 L441.0,1538.1 L444.8,1537.6 L448.7,1537.1 L452.6,1536.6 L456.5,1536.1 L460.3,1535.6 L464.2,1535.1 L468.1,1534.6 L472.0,1534.0 L475.8,1533.5 L479.7,1532.9 L483.6,1532.4 L487.5,1531.8 L491.3,1531.2 L495.2,1530.6 L499.1,1530.1 L502.9,1529.5 L506.8,1528.9 L510.7,1528.3 L514.6,1527.7 L518.4,1527.1 L522.3,1526.5 L526.2,1526.0 L530.1,1525.4 L533.9,1524.8 L537.8,1524.2 L541.7,1523.7 L545.6,1523.1 L549.4,1522.5 L553.3,1522.0 L557.2,1521.4 L561.1,1520.8 L564.9,1520.3 L568.8,1519.7 L572.7,1519.2 L576.5,1518.6 L580.4,1518.0 L584.3,1517.5 L588.2,1516.9 L592.0,1516.4 L595.9,1515.8 L599.8,1515.3 L603.7,1514.7 L607.5,1514.1 L611.4,1513.6 L615.3,1513.1 L619.2,1512.5 L623.0,1512.0 L626.9,1511.4 L630.8,1510.9 L634.6,1510.3 L638.5,1509.8 L642.4,1509.2 L646.3,1508.7 L650.1,1508.2 L654.0,1507.6 L657.9,1507.1 L661.8,1506.6 L665.6,1506.0 L669.5,1505.5 L673.4,1505.0 L677.3,1504.4 L681.1,1503.9 L685.0,1503.4 L688.9,1502.9 L692.7,1502.4 L696.6,1501.9 L700.5,1501.4 L704.4,1500.9 L708.2,1500.4 L712.1,1499.8 L716.0,1499.3 L719.9,1498.7 L723.7,1498.2 L727.6,1497.7 L731.5,1497.2 L735.4,1496.7 L739.2,1496.2 L743.1,1495.7 L747.0,1495.3 L750.8,1494.9 L754.7,1494.6 L758.6,1494.3 L762.5,1494.0 L766.3,1493.7 L770.2,1493.5 L774.1,1493.2 L778.0,1493.0 L781.8,1492.7 L785.7,1492.5 L789.6,1492.3 L793.5,1492.1 L797.3,1491.9 L801.2,1491.7 L805.1,1491.5 L809.0,1491.3 L812.8,1491.1 L816.7,1491.0 L820.6,1490.9 L824.4,1490.8 L828.3,1490.7 L832.2,1490.6 L836.1,1490.5 L839.9,1490.5 L843.8,1490.5 L847.7,1490.4 L851.6,1490.4 L855.4,1490.4 L859.3,1490.4 L863.2,1490.4 L867.1,1490.3 L870.9,1490.3 L874.8,1490.3 L878.7,1490.3 L882.5,1490.3 L886.4,1490.3 L890.3,1490.2 L894.2,1490.2 L898.0,1490.2 L901.9,1490.2 L905.8,1490.2 L909.7,1490.2 L913.5,1490.2 L917.4,1490.2 L921.3,1490.2 L925.2,1490.2 L929.0,1490.2 L932.9,1490.3 L936.8,1490.3 L940.6,1490.3 L944.5,1490.4 L948.4,1490.4 L952.3,1490.5 L956.1,1490.6 L960.0,1490.6 L963.9,1490.7 L967.8,1490.8 L971.6,1490.9 L975.5,1490.9 L979.4,1491.0 L983.3,1491.1 L987.1,1491.2 L991.0,1491.3 L994.9,1491.4 L998.7,1491.5 L1002.6,1491.6 L1006.5,1491.7 L1010.4,1491.9 L1014.2,1492.0 L1018.1,1492.2 L1022.0,1492.4 L1025.9,1492.5 L1029.7,1492.7 L1033.6,1492.9 L1037.5,1493.1 L1041.4,1493.3 L1045.2,1493.5 L1049.1,1493.7 L1053.0,1493.8 L1056.9,1494.0 L1060.7,1494.1 L1064.6,1494.3 L1068.5,1494.4 L1072.3,1494.5 L1076.2,1494.7 L1080.1,1494.8 L1084.0,1494.9 L1087.8,1495.0 L1091.7,1495.2 L1095.6,1495.3 L1099.5,1495.4 L1103.3,1495.5 L1107.2,1495.6 L1111.1,1495.7 L1115.0,1495.8 L1118.8,1496.0 L1122.7,1496.1 L1126.6,1496.2 L1130.4,1496.3 L1134.3,1496.4 L1138.2,1496.5 L1142.1,1496.6 L1145.9,1496.7 L1149.8,1496.8 L1153.7,1496.9 L1157.6,1496.9 L1161.4,1497.0 L1165.3,1497.1 L1169.2,1497.2 L1173.1,1497.3 L1176.9,1497.4 L1180.8,1497.5 L1184.7,1497.6 L1188.5,1497.6 L1192.4,1497.7 L1196.3,1497.8 L1200.2,1497.9 L1204.0,1498.0 L1207.9,1498.1 L1211.8,1498.1 L1215.7,1498.2 L1219.5,1498.3 L1223.4,1498.4 L1227.3,1498.5 L1231.2,1498.6 L1235.0,1498.6 L1238.9,1498.7 L1242.8,1498.8 L1246.6,1498.9 L1250.5,1499.0 L1254.4,1499.0 L1258.3,1499.1 L1262.1,1499.2 L1266.0,1499.3 L1269.9,1499.4 L1273.8,1499.4 L1277.6,1499.5 L1281.5,1499.6 L1285.4,1499.7 L1289.3,1499.8 L1293.1,1499.9 L1297.0,1500.0 L1300.9,1500.0 L1304.8,1500.1 L1308.6,1500.2 L1312.5,1500.3 L1316.4,1500.4 L1320.2,1500.5 L1324.1,1500.6 L1328.0,1500.7 L1331.9,1500.8 L1335.7,1500.9 L1339.6,1501.0 L1343.5,1501.1 L1347.4,1501.2 L1351.2,1501.3 L1355.1,1501.4 L1359.0,1501.5 L1362.9,1501.6 L1366.7,1501.7 L1370.6,1501.8 L1374.5,1501.9 L1378.3,1502.0 L1382.2,1502.1 L1386.1,1502.3 L1390.0,1502.4 L1393.8,1502.5 L1397.7,1502.5 L1401.6,1502.6 L1405.5,1502.7 L1409.3,1502.8 L1413.2,1502.9 L1417.1,1503.0 L1421.0,1503.1 L1424.8,1503.2 L1428.7,1503.3 L1432.6,1503.4 L1436.4,1503.4 L1440.3,1503.5 L1444.2,1503.6 L1448.1,1503.7 L1451.9,1503.8 L1455.8,1503.8 L1459.7,1503.9 L1463.6,1504.0 L1467.4,1504.1 L1471.3,1504.1 L1475.2,1504.2 L1479.1,1504.3 L1482.9,1504.4 L1486.8,1504.5 L1490.7,1504.5 L1494.5,1504.6 L1498.4,1504.7 L1502.3,1504.8 L1506.2,1504.8 L1510.0,1504.9 L1513.9,1505.0 L1517.8,1505.1 L1521.7,1505.1 L1525.5,1505.2 L1529.4,1505.3 L1533.3,1505.3 L1537.2,1505.4 L1541.0,1505.5 L1544.9,1505.5 L1548.8,1505.6 L1552.7,1505.6 L1556.5,1505.7 L1560.4,1505.7 L1564.3,1505.8 L1568.1,1505.8 L1572.0,1505.9 L1575.9,1505.9 L1579.8,1506.0 L1583.6,1506.0 L1587.5,1506.0 L1591.4,1506.1 L1595.3,1506.1 L1599.1,1506.1 L1603.0,1506.1 L1606.9,1506.1 L1610.8,1506.2 L1614.6,1506.2 L1618.5,1506.2 L1622.4,1506.2 L1626.2,1506.2 L1630.1,1506.3 L1634.0,1506.3 L1637.9,1506.3 L1641.7,1506.3 L1645.6,1506.3 L1649.5,1506.3 L1653.4,1506.4 L1657.2,1506.4 L1661.1,1506.4 L1665.0,1506.4 L1668.9,1506.4 L1672.7,1506.4 L1676.6,1506.5 L1680.5,1506.5 L1684.3,1506.5 L1688.2,1506.5 L1692.1,1506.5 L1696.0,1506.5 L1699.8,1506.6 L1703.7,1506.6 L1707.6,1506.6 L1711.5,1506.6 L1715.3,1506.6 L1719.2,1506.6 L1723.1,1506.6 L1727.0,1506.7 L1730.8,1506.7 L1734.7,1506.7 L1738.6,1506.7 L1742.4,1506.7 L1746.3,1506.7 L1750.2,1506.7 L1754.1,1506.7 L1757.9,1506.8 L1761.8,1506.8 L1765.7,1506.8 L1769.6,1506.8 L1773.4,1506.8 L1777.3,1506.8 L1781.2,1506.8 L1785.1,1506.8 L1788.9,1506.8 L1792.8,1506.8 L1796.7,1506.9 L1800.6,1506.9 L1804.4,1506.9 L1808.3,1506.9 L1812.2,1506.9 L1816.0,1506.9 L1819.9,1506.9 L1823.8,1506.9 L1827.7,1506.9 L1831.5,1506.9 L1835.4,1506.9 L1839.3,1506.9 L1843.2,1506.9 L1847.0,1506.9 L1850.9,1507.0 L1854.8,1507.0 L1858.7,1507.0 L1862.5,1507.0 L1866.4,1507.0 L1870.3,1507.0 L1874.1,1507.0 L1878.0,1507.0 L1881.9,1507.0 L1885.8,1507.0 L1889.6,1507.0 L1893.5,1507.0 L1897.4,1507.0 L1901.3,1507.0 L1905.1,1507.0 L1909.0,1507.0 L1912.9,1507.0 L1916.8,1507.0 L1920.6,1507.0 L1924.5,1507.0" stroke="#ff0000" stroke-width="16.9"/>
</g>
<rect x="386.5" y="140.5" width="1550.5" height="1419.0" fill="none" stroke="#000" stroke-width="6.8"/>
<path d="M695.5,1559.5v-29.5M695.5,140.5v29.5M1004.5,1559.5v-29.5M1004.5,140.5v29.5M1313.7,1559.5v-29.5M1313.7,140.5v29.5M1627.5,1559.5v-29.5M1627.5,140.5v29.5M386.5,420.5h29.5M1937.0,420.5h-29.5M386.5,706.8h29.5M1937.0,706.8h-29.5M386.5,992.4h29.5M1937.0,992.4h-29.5M386.5,1278.0h29.5M1937.0,1278.0h-29.5" stroke="#000" stroke-opacity="0.62" stroke-width="5.4" fill="none"/>
<text y="103.70" font-family='"DejaVu Sans","Liberation Sans",sans-serif' font-style="normal" font-size="87" fill="#000" stroke="#000" stroke-width="0.6" stroke-linejoin="round" xml:space="preserve"><tspan x="469.50" letter-spacing="3.701">Radiative</tspan> <tspan x="938.70" letter-spacing="3.776">Lifetime:</tspan> <tspan x="1382.20" letter-spacing="4.7">ISB</tspan> <tspan x="1565.50" letter-spacing="0.0">-</tspan> <tspan x="1627.50" letter-spacing="6.9">BTB</tspan></text>
<text transform="translate(181.63,160.90) scale(0.3824,0.3987)" font-family='"DejaVu Sans","Liberation Sans",sans-serif' font-style="normal" font-size="200" fill="#000" xml:space="preserve">0.25</text>
<text transform="translate(181.65,442.50) scale(0.3811,0.3993)" font-family='"DejaVu Sans","Liberation Sans",sans-serif' font-style="normal" font-size="200" fill="#000" xml:space="preserve">0.20</text>
<text transform="translate(181.65,727.50) scale(0.3805,0.3987)" font-family='"DejaVu Sans","Liberation Sans",sans-serif' font-style="normal" font-size="200" fill="#000" xml:space="preserve">0.15</text>
<text transform="translate(181.65,1012.41) scale(0.3811,0.3980)" font-family='"DejaVu Sans","Liberation Sans",sans-serif' font-style="normal" font-size="200" fill="#000" xml:space="preserve">0.10</text>
<text transform="translate(181.63,1298.12) scale(0.3824,0.3940)" font-family='"DejaVu Sans","Liberation Sans",sans-serif' font-style="normal" font-size="200" fill="#000" xml:space="preserve">0.05</text>
<text transform="translate(181.65,1579.61) scale(0.3811,0.3960)" font-family='"DejaVu Sans","Liberation Sans",sans-serif' font-style="normal" font-size="200" fill="#000" xml:space="preserve">0.00</text>
<text transform="translate(323.81,1649.10) scale(0.3685,0.3993)" font-family='"DejaVu Sans","Liberation Sans",sans-serif' font-style="normal" font-size="200" fill="#000" xml:space="preserve">0.0</text>
<text transform="translate(631.80,1649.10) scale(0.3768,0.3993)" font-family='"DejaVu Sans","Liberation Sans",sans-serif' font-style="normal" font-size="200" fill="#000" xml:space="preserve">0.2</text>
<text transform="translate(942.22,1649.10) scale(0.3680,0.3993)" font-family='"DejaVu Sans","Liberation Sans",sans-serif' font-style="normal" font-size="200" fill="#000" xml:space="preserve">0.4</text>
<text transform="translate(1249.58,1649.10) scale(0.3781,0.3993)" font-family='"DejaVu Sans","Liberation Sans",sans-serif' font-style="normal" font-size="200" fill="#000" xml:space="preserve">0.6</text>
<text transform="translate(1564.05,1649.10) scale(0.3729,0.3993)" font-family='"DejaVu Sans","Liberation Sans",sans-serif' font-style="normal" font-size="200" fill="#000" xml:space="preserve">0.8</text>
<text transform="translate(1874.11,1649.10) scale(0.3767,0.3993)" font-family='"DejaVu Sans","Liberation Sans",sans-serif' font-style="normal" font-size="200" fill="#000" xml:space="preserve">1.0</text>
<text y="1776.20" font-family='"DejaVu Sans","Liberation Sans",sans-serif' font-style="normal" font-size="80" fill="#000" stroke="#000" stroke-width="0.6" stroke-linejoin="round" xml:space="preserve"><tspan x="635.50" letter-spacing="-1.299">Effective</tspan> <tspan x="1001.10" letter-spacing="-1.028">Magnetic</tspan> <tspan x="1379.70" letter-spacing="1.48">Field,</tspan></text>
<text transform="translate(1620.48,1775.20) scale(0.4621,0.4000)" font-family='"Liberation Serif","DejaVu Serif",serif' font-style="italic" font-size="200" fill="#000" fill-opacity="0.92" xml:space="preserve">B</text>
<g transform="translate(113.4,1099.5) rotate(-90)">
<text x="-7.70" y="-1.80" font-family='"DejaVu Sans","Liberation Sans",sans-serif' font-style="normal" font-size="80" letter-spacing="-1.4" fill="#000" stroke="#000" stroke-width="0.6" stroke-linejoin="round" xml:space="preserve">Lifetime,</text>
<text transform="translate(319.30,-2.20) scale(0.3541,0.3229) skewX(-14)" font-family='"DejaVu Sans","Liberation Sans",sans-serif' font-style="normal" font-size="200" fill="#000" fill-opacity="1.0" stroke="#000" stroke-width="4.732" stroke-linejoin="round" font-weight="200" xml:space="preserve">τ</text>
<text transform="translate(373.36,-1.37) scale(0.3490,0.4611)" font-family='"Liberation Serif","DejaVu Serif",serif' font-style="normal" font-size="200" fill="#000" fill-opacity="0.8" xml:space="preserve">(</text>
<text transform="translate(394.71,-1.00) scale(0.4271,0.3957)" font-family='"Liberation Serif","DejaVu Serif",serif' font-style="italic" font-size="200" fill="#000" fill-opacity="0.92" xml:space="preserve">n</text>
<text transform="translate(446.78,-2.17) scale(0.3725,0.3833)" font-family='"Liberation Serif","DejaVu Serif",serif' font-style="italic" font-size="200" fill="#000" fill-opacity="0.92" xml:space="preserve">s</text>
<text transform="translate(482.73,-1.37) scale(0.3442,0.4611)" font-family='"Liberation Serif","DejaVu Serif",serif' font-style="normal" font-size="200" fill="#000" fill-opacity="0.8" xml:space="preserve">)</text>
</g>
<rect x="1174" y="177.3" width="720.5" height="458.2" rx="12" ry="12" fill="#fff" stroke="#8e8e8e" stroke-width="7.2"/>
<path d="M1220.5,247.6H1346" stroke="#008000" stroke-width="16.9" fill="none"/>
<path d="M1220.5,397.1H1346" stroke="#0000ff" stroke-width="16.9" fill="none"/>
<path d="M1220.5,547.4H1346" stroke="#ff0000" stroke-width="16.9" fill="none"/>
<text transform="translate(1416.51,262.40) scale(0.3592,0.3358) skewX(-14)" font-family='"DejaVu Sans","Liberation Sans",sans-serif' font-style="normal" font-size="200" fill="#000" fill-opacity="1.0" stroke="#000" stroke-width="4.607" stroke-linejoin="round" font-weight="200" xml:space="preserve">τ</text>
<text transform="translate(1460.17,287.30) scale(0.2704,0.2750)" font-family='"Liberation Serif","DejaVu Serif",serif' font-style="normal" font-size="200" fill="#000" fill-opacity="0.9" xml:space="preserve">21</text>
<text transform="translate(1468.97,234.26) scale(0.2385,0.2219)" font-family='"Liberation Serif","DejaVu Serif",serif' font-style="italic" font-size="200" fill="#000" fill-opacity="0.62" xml:space="preserve">e</text>
<text transform="translate(1502.14,243.36) scale(0.3258,0.3600)" font-family='"Liberation Serif","DejaVu Serif",serif' font-style="normal" font-size="200" fill="#000" fill-opacity="0.62" xml:space="preserve">−</text>
<text transform="translate(1555.35,234.26) scale(0.2756,0.2219)" font-family='"Liberation Serif","DejaVu Serif",serif' font-style="italic" font-size="200" fill="#000" fill-opacity="0.62" xml:space="preserve">e</text>
<text transform="translate(1416.51,416.00) scale(0.3592,0.3321) skewX(-14)" font-family='"DejaVu Sans","Liberation Sans",sans-serif' font-style="normal" font-size="200" fill="#000" fill-opacity="1.0" stroke="#000" stroke-width="4.633" stroke-linejoin="round" font-weight="200" xml:space="preserve">τ</text>
<text transform="translate(1461.56,436.80) scale(0.2747,0.2519)" font-family='"Liberation Serif","DejaVu Serif",serif' font-style="normal" font-size="200" fill="#000" fill-opacity="0.9" xml:space="preserve">11</text>
<text transform="translate(1468.97,388.36) scale(0.2385,0.2219)" font-family='"Liberation Serif","DejaVu Serif",serif' font-style="italic" font-size="200" fill="#000" fill-opacity="0.62" xml:space="preserve">e</text>
<text transform="translate(1502.14,397.56) scale(0.3258,0.3600)" font-family='"Liberation Serif","DejaVu Serif",serif' font-style="normal" font-size="200" fill="#000" fill-opacity="0.62" xml:space="preserve">−</text>
<text transform="translate(1555.17,389.66) scale(0.2903,0.2635)" font-family='"Liberation Serif","DejaVu Serif",serif' font-style="italic" font-size="200" fill="#000" fill-opacity="0.75" xml:space="preserve">hh</text>
<text transform="translate(1637.40,430.41) scale(0.4877,0.4543)" font-family='"Liberation Serif","DejaVu Serif",serif' font-style="normal" font-size="200" fill="#000" fill-opacity="0.7" xml:space="preserve">×</text>
<text transform="translate(1708.04,417.77) scale(0.3977,0.4170)" font-family='"Liberation Serif","DejaVu Serif",serif' font-style="normal" font-size="200" fill="#000" fill-opacity="1.0" xml:space="preserve">10</text>
<text transform="translate(1792.23,397.56) scale(0.3269,0.3600)" font-family='"Liberation Serif","DejaVu Serif",serif' font-style="normal" font-size="200" fill="#000" fill-opacity="0.62" xml:space="preserve">−</text>
<text transform="translate(1829.60,389.61) scale(0.2838,0.2474)" font-family='"Liberation Serif","DejaVu Serif",serif' font-style="normal" font-size="200" fill="#000" fill-opacity="0.75" xml:space="preserve">5</text>
<text transform="translate(1416.51,566.40) scale(0.3592,0.3229) skewX(-14)" font-family='"DejaVu Sans","Liberation Sans",sans-serif' font-style="normal" font-size="200" fill="#000" fill-opacity="1.0" stroke="#000" stroke-width="4.698" stroke-linejoin="round" font-weight="200" xml:space="preserve">τ</text>
<text transform="translate(1460.17,588.00) scale(0.2704,0.2803)" font-family='"Liberation Serif","DejaVu Serif",serif' font-style="normal" font-size="200" fill="#000" fill-opacity="0.9" xml:space="preserve">21</text>
<text transform="translate(1468.97,538.26) scale(0.2385,0.2219)" font-family='"Liberation Serif","DejaVu Serif",serif' font-style="italic" font-size="200" fill="#000" fill-opacity="0.62" xml:space="preserve">e</text>
<text transform="translate(1502.14,547.46) scale(0.3258,0.3600)" font-family='"Liberation Serif","DejaVu Serif",serif' font-style="normal" font-size="200" fill="#000" fill-opacity="0.62" xml:space="preserve">−</text>
<text transform="translate(1555.17,540.27) scale(0.2903,0.2686)" font-family='"Liberation Serif","DejaVu Serif",serif' font-style="italic" font-size="200" fill="#000" fill-opacity="0.75" xml:space="preserve">hh</text>
<text transform="translate(546.47,1120.80) scale(0.4326,0.4165)" font-family='"Liberation Serif","DejaVu Serif",serif' font-style="italic" font-size="200" fill="#000" fill-opacity="0.92" xml:space="preserve">x</text>
<text transform="translate(598.62,1127.44) scale(0.5376,0.3840)" font-family='"Liberation Serif","DejaVu Serif",serif' font-style="normal" font-size="200" fill="#000" fill-opacity="1.0" xml:space="preserve">=</text>
<text transform="translate(673.41,1120.68) scale(0.4238,0.4111)" font-family='"Liberation Serif","DejaVu Serif",serif' font-style="normal" font-size="200" fill="#000" fill-opacity="1.0" xml:space="preserve">0</text>
<text transform="translate(714.21,1120.15) scale(0.2917,0.2826)" font-family='"Liberation Serif","DejaVu Serif",serif' font-style="normal" font-size="200" fill="#000" fill-opacity="1.0" xml:space="preserve">.</text>
<text transform="translate(734.31,1120.80) scale(0.3714,0.4145)" font-family='"Liberation Serif","DejaVu Serif",serif' font-style="normal" font-size="200" fill="#000" fill-opacity="1.0" xml:space="preserve">1</text>
<text transform="translate(540.38,1214.00) scale(0.4750,0.4348)" font-family='"Liberation Serif","DejaVu Serif",serif' font-style="italic" font-size="200" fill="#000" fill-opacity="0.92" xml:space="preserve">l</text>
<text transform="translate(575.02,1220.49) scale(0.5484,0.3460)" font-family='"Liberation Serif","DejaVu Serif",serif' font-style="normal" font-size="200" fill="#000" fill-opacity="1.0" xml:space="preserve">=</text>
<text transform="translate(650.66,1214.15) scale(0.3841,0.4254)" font-family='"Liberation Serif","DejaVu Serif",serif' font-style="normal" font-size="200" fill="#000" fill-opacity="1.0" xml:space="preserve">3</text>
<text transform="translate(698.60,1213.40) scale(0.4500,0.4108)" font-family='"Liberation Serif","DejaVu Serif",serif' font-style="italic" font-size="200" fill="#000" fill-opacity="0.92" xml:space="preserve">L</text>
<text transform="translate(757.52,1220.49) scale(0.5484,0.3460)" font-family='"Liberation Serif","DejaVu Serif",serif' font-style="normal" font-size="200" fill="#000" fill-opacity="1.0" xml:space="preserve">=</text>
<text transform="translate(832.98,1214.15) scale(0.4024,0.4254)" font-family='"Liberation Serif","DejaVu Serif",serif' font-style="normal" font-size="200" fill="#000" fill-opacity="1.0" xml:space="preserve">3</text>
<text x="542.70" y="1330.70" font-family='"DejaVu Sans","Liberation Sans",sans-serif' font-style="normal" font-size="80" letter-spacing="-1.12" fill="#000" stroke="#000" stroke-width="0.6" stroke-linejoin="round" xml:space="preserve">Solid:</text>
<text transform="translate(762.34,1330.10) scale(0.4408,0.4031)" font-family='"Liberation Serif","DejaVu Serif",serif' font-style="italic" font-size="200" fill="#000" fill-opacity="0.92" xml:space="preserve">F</text>
<text transform="translate(817.48,1336.52) scale(0.5516,0.3420)" font-family='"Liberation Serif","DejaVu Serif",serif' font-style="normal" font-size="200" fill="#000" fill-opacity="1.0" xml:space="preserve">=</text>
<text transform="translate(893.19,1330.00) scale(0.3786,0.4122)" font-family='"Liberation Serif","DejaVu Serif",serif' font-style="normal" font-size="200" fill="#000" fill-opacity="1.0" xml:space="preserve">1</text>
<text x="541.10" y="1443.70" font-family='"DejaVu Sans","Liberation Sans",sans-serif' font-style="normal" font-size="80" letter-spacing="-1.3" fill="#000" stroke="#000" stroke-width="0.6" stroke-linejoin="round" xml:space="preserve">Dotted:</text>
<text transform="translate(839.02,1443.11) scale(0.4192,0.4054)" font-family='"Liberation Serif","DejaVu Serif",serif' font-style="italic" font-size="200" fill="#000" fill-opacity="0.92" xml:space="preserve">F</text>
<text transform="translate(897.32,1449.35) scale(0.5484,0.3500)" font-family='"Liberation Serif","DejaVu Serif",serif' font-style="normal" font-size="200" fill="#000" fill-opacity="1.0" xml:space="preserve">=</text>
<text transform="translate(969.23,1443.18) scale(0.4083,0.4111)" font-family='"Liberation Serif","DejaVu Serif",serif' font-style="normal" font-size="200" fill="#000" fill-opacity="1.0" xml:space="preserve">0</text>
</svg></body></html>
